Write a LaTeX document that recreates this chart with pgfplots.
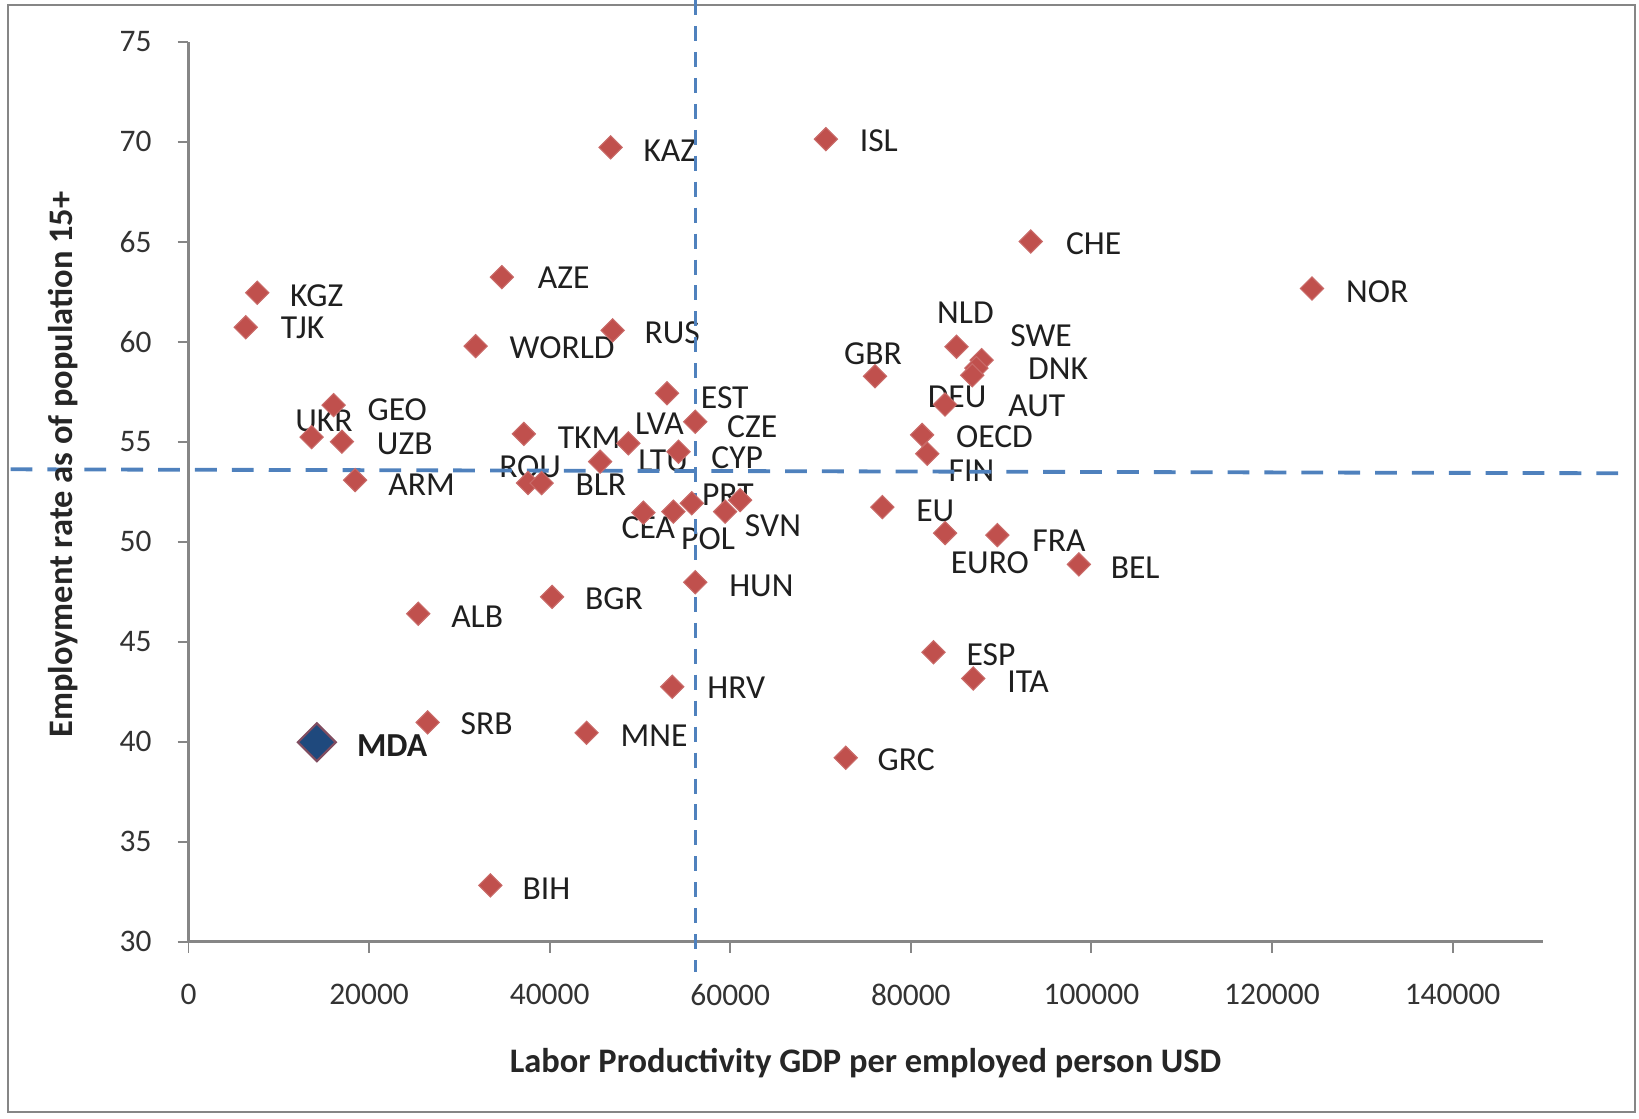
\documentclass[border=0pt]{standalone}
\usepackage{fontspec}
\setmainfont{Carlito}
\usepackage{pgfplots}
\pgfplotsset{compat=1.18}
\definecolor{mkred}{RGB}{192,80,77}
\definecolor{dashblue}{RGB}{79,129,189}
\definecolor{axgray}{RGB}{134,134,134}
\definecolor{mdablue}{RGB}{31,73,125}
\newcommand{\lab}{\fontsize{12.3}{14}\selectfont}
\begin{document}
\begin{tikzpicture}
\useasboundingbox (-69pt,-64.6pt) rectangle (531pt,344.7pt);
\draw[axgray, line width=0.7pt] (-66pt,-62.5pt) rectangle (529.5pt,343pt);
\begin{axis}[
  at={(0pt,0pt)}, anchor=south west,
  scale only axis, width=495.8pt, height=329.4pt,
  xmin=0, xmax=150000, ymin=30, ymax=75,
  axis lines=left,
  axis line style={-, axgray, line width=0.9pt},
  xtick={0,20000,40000,60000,80000,100000,120000,140000},
  ytick={30,35,40,45,50,55,60,65,70,75},
  scaled x ticks=false,
  xticklabel style={/pgf/number format/fixed, /pgf/number format/1000 sep={}, yshift=-8pt},
  yticklabel style={xshift=-6pt},
  /pgf/number format/assume math mode=true,
  tick align=outside, major tick length=4pt,
  tick style={axgray, line width=0.7pt},
  tick label style={font=\fontsize{11.5}{13}\selectfont, text=black!80},
  xlabel={Labor Productivity GDP per employed person USD},
  ylabel={Employment rate as of population 15+},
  label style={font=\bfseries\fontsize{12.6}{14}\selectfont, text=black!85},
  xlabel style={at={(axis description cs:0.5,-0.135)}, anchor=center},
  ylabel style={at={(axis description cs:-0.0928,0.53)}, anchor=center},
  clip=false,
]
\addplot[only marks, mark=square*, mark size=3pt,
  mark options={rotate=45, fill=mkred, draw=mkred!85!white}] table {
x y
7618 62.45
6344 60.72
34708 63.23
46748 69.72
70597 70.13
93287 65.01
124429 62.66
46979 60.57
31814 59.78
85068 59.75
87846 59.08
87267 58.68
86804 58.32
76038 58.27
83794 56.86
81247 55.34
81826 54.40
76848 51.73
83794 50.43
89583 50.33
98613 48.86
82521 44.47
86920 43.16
72796 39.19
56125 47.97
53578 42.74
44085 40.44
40265 47.24
25446 46.40
26488 40.96
33434 32.81
16069 56.83
13638 55.23
16995 55.00
18454 53.08
37139 55.39
37602 52.93
39107 52.93
48716 54.92
45590 54.00
54273 54.50
56125 56.00
52999 57.42
50383 51.45
53706 51.50
55743 51.92
59436 51.50
61092 52.08
};
\addplot[only marks, mark=square*, mark size=4.9pt,
  mark options={rotate=45, fill=mdablue, draw=mkred!60!mdablue, line width=0.8pt}] table {
x y
14217 39.97
};
\begin{scope}[every node/.style={anchor=west, inner sep=0pt, font=\lab, text=black!88}]
\node at (axis cs:50336,69.56) {KAZ};
\node at (axis cs:74296,70.03) {ISL};
\node at (axis cs:97131,64.91) {CHE};
\node at (axis cs:128158,62.5) {NOR};
\node at (axis cs:11206,62.29) {KGZ};
\node at (axis cs:10164,60.67) {TJK};
\node at (axis cs:38645,63.18) {AZE};
\node at (axis cs:50452,60.46) {RUS};
\node at (axis cs:35518,59.68) {WORLD};
\node at (axis cs:82866,61.46) {NLD};
\node at (axis cs:90970,60.31) {SWE};
\node at (axis cs:92938,58.63) {DNK};
\node at (axis cs:90738,56.8) {AUT};
\node at (axis cs:72562,59.42) {GBR};
\node at (axis cs:81824,57.22) {DEU};
\node at (axis cs:84950,55.24) {OECD};
\node at (axis cs:84140,53.57) {FIN};
\node at (axis cs:80551,51.53) {EU};
\node at (axis cs:84371,48.97) {EURO};
\node at (axis cs:93401,50.07) {FRA};
\node at (axis cs:102084,48.7) {BEL};
\node at (axis cs:86109,44.37) {ESP};
\node at (axis cs:90624,43.0) {ITA};
\node at (axis cs:76268,39.09) {GRC};
\node at (axis cs:59837,47.81) {HUN};
\node at (axis cs:57406,42.69) {HRV};
\node at (axis cs:47797,40.29) {MNE};
\node at (axis cs:43861,47.14) {BGR};
\node at (axis cs:29043,46.25) {ALB};
\node at (axis cs:30085,40.92) {SRB};
\node[font=\lab\bfseries] at (axis cs:18618,39.82) {MDA};
\node at (axis cs:36953,32.66) {BIH};
\node at (axis cs:19774,56.6) {GEO};
\node at (axis cs:11784,56.02) {UKR};
\node at (axis cs:20815,54.87) {UZB};
\node at (axis cs:22088,52.83) {ARM};
\node at (axis cs:40844,55.22) {TKM};
\node at (axis cs:34361,53.76) {ROU};
\node at (axis cs:42812,52.83) {BLR};
\node at (axis cs:49411,55.92) {LVA};
\node at (axis cs:49758,54.04) {LTU};
\node at (axis cs:57862,54.2) {CYP};
\node at (axis cs:59606,55.77) {CZE};
\node at (axis cs:56698,57.22) {EST};
\node at (axis cs:47913,50.69) {CEA};
\node at (axis cs:54513,50.16) {POL};
\node at (axis cs:61575,50.79) {SVN};
\node at (axis cs:56814,52.36) {PRT};
\end{scope}
\draw[dashblue, line width=1.4pt, dash pattern=on 8pt off 5.5pt] (axis cs:-19700,53.62) -- (axis cs:160000,53.42);
\draw[dashblue, line width=1.1pt, dash pattern=on 5.5pt off 4pt] (axis cs:56113,77.09) -- (axis cs:56113,28.47);
\end{axis}
\end{tikzpicture}
\end{document}
